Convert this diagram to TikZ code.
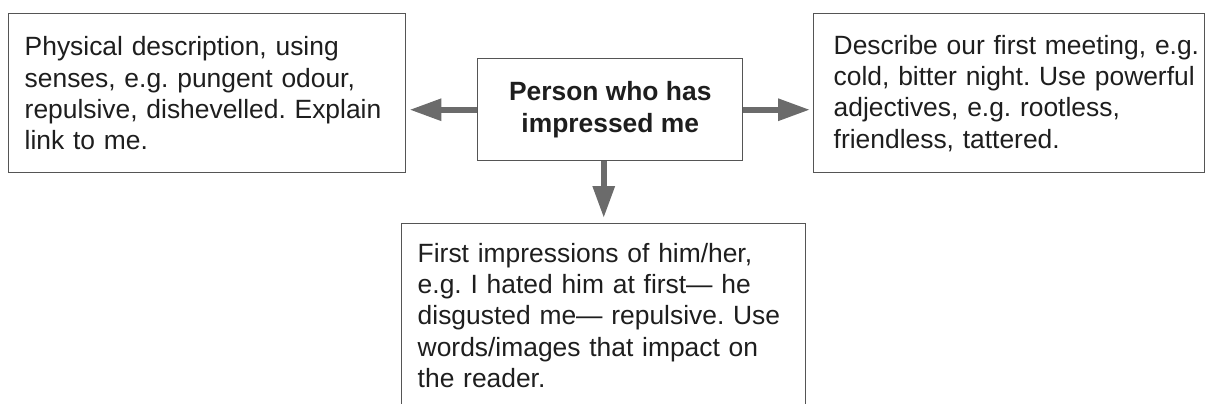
\documentclass[tikz,border=0pt]{standalone}
\usepackage{fontspec}
\setmainfont{Liberation Sans}
\usetikzlibrary{arrows.meta}
\definecolor{boxline}{HTML}{555555}
\definecolor{arrowgray}{HTML}{6B6B6B}
\definecolor{inkgray}{HTML}{1E1E1E}
\frenchspacing

\begin{document}
\begin{tikzpicture}[x=0.75pt, y=-0.75pt,
    every node/.style={font=\fontsize{19.8pt}{23.5pt}\selectfont, text=inkgray},
    mapbox/.style={draw=boxline, line width=1.1pt, fill=white, rectangle,
        anchor=north west, inner xsep=0pt, inner ysep=0pt, align=left},
    hub/.style={mapbox, align=center, font=\fontsize{19.8pt}{24.3pt}\selectfont\bfseries},
    link/.style={draw=arrowgray, line width=4.5pt,
        -{Triangle[length=24pt, width=15.75pt]}}]
	\useasboundingbox (0,0) rectangle (1205,403);
	\clip (0,0) rectangle (1205,403);

	% centre box
	\node[hub, minimum width=265*0.75pt, minimum height=102*0.75pt] (person) at (477,58)
		{Person who has\\impressed me};

	% left, right and bottom boxes
	\node[mapbox, text width=397*0.75pt, minimum height=159*0.75pt,
		execute at begin node={\leftskip=12pt}] (looks) at (8,13)
		{Physical description, using\\senses, e.g. pungent odour,\\repulsive, dishevelled. Explain\\link to me.};

	\node[mapbox, text width=391*0.75pt, minimum height=159*0.75pt,
		execute at begin node={\leftskip=15pt}] (meeting) at (813,13)
		{Describe our first meeting, e.g.\\cold, bitter night. Use powerful\\adjectives, e.g. rootless,\\friendless, tattered.};

	\node[mapbox, text width=404*0.75pt, minimum height=183*0.75pt,
		execute at begin node={\leftskip=12pt}] (firstview) at (401,223)
		{First impressions of him/her,\\e.g. I hated him at first— he\\disgusted me— repulsive. Use\\words/images that impact on\\the reader.};

	\draw[link, shorten >=2.25pt] (person.west) -- (person.west -| looks.east);
	\draw[link, shorten >=2.25pt] (person.east) -- (person.east -| meeting.west);
	\draw[link, shorten >=3.75pt] (person.south -| firstview.north) -- (firstview.north);
\end{tikzpicture}
\end{document}
